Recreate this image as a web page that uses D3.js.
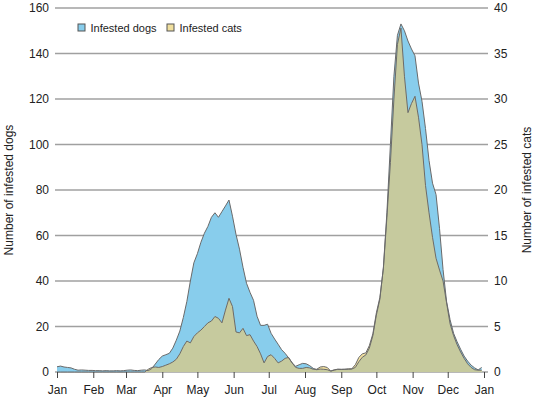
<!DOCTYPE html>
<html><head><meta charset="utf-8">
<script src="https://cdn.jsdelivr.net/npm/d3@7"></script>
<style>body{margin:0;background:#fff}svg{display:block}text{font-family:"Liberation Sans",Arial,sans-serif}</style>
</head><body>
<script>
// Sampled every 3 days starting Jan 1
const startDate = new Date(2019, 0, 1);
const stepDays = 3;
const dogs = [2.3,2.6,2.2,2.0,1.8,1.2,0.8,0.9,0.8,0.7,0.7,0.6,0.6,0.5,0.6,0.5,0.5,0.6,0.5,0.6,0.8,0.9,0.7,0.6,0.8,0.9,
  0.6,1.5,3.5,5.5,7.0,7.6,8.2,10.5,14,18,24,31,40,48,52,57,61,64,68,70,68,70.5,73,75.6,
  68.5,60.5,54,46,39,35,31.5,24.5,20.5,20.5,21,17,14.5,12.2,9.8,8.2,6.2,4.0,2.5,3.2,3.8,3.6,2.8,1.6,1.0,1.3,1.2,1.0,0.4,0.8,
  1.2,1.1,1.2,1.2,1.3,2.0,4.5,6.5,7.5,10.5,16,25,32,46,70,100,130,148,153,150,145.5,142,139,127,119,107,93,83,78,63,
  45,31,23,17,13.3,10,7,4.8,3.0,1.8,0.9,2.0];
const cats = [0,0,0,0,0,0,0,0,0,0,0,0,0,0,0,0,0,0,0,0,0,0,0,0,0,0,
  0.3,0.5,0.55,0.5,0.6,0.75,0.9,1.1,1.4,2.0,2.8,3.4,3.2,3.9,4.3,4.6,5.0,5.4,5.6,6.1,5.9,5.4,6.8,8.1,
  7.2,4.4,4.3,4.8,4.0,4.1,3.4,2.8,2.0,1.0,1.7,1.9,1.5,1.0,1.2,1.5,1.6,1.0,0.5,0.4,0.4,0.5,0.45,0.3,0.3,0.55,0.6,0.5,0.1,0.25,
  0.3,0.3,0.3,0.35,0.35,0.8,1.6,2.0,2.1,2.9,4.2,6.5,8.2,11.4,17,23,30,36,37.8,32.5,28.5,29.5,30.3,28,25,20.5,17.5,14.8,12.5,11.2,
  10,7.6,5.3,4,3.0,2.2,1.5,0.9,0.5,0.25,0.2,0.2];
const dogTicks = [0,20,40,60,80,100,120,140,160];
const catTicks = [0,5,10,15,20,25,30,35,40];
const seriesNames = ["Infested dogs","Infested cats"];
const colors = {dog:"#88cdec", cat:"#f0df9e", overlap:"#c6ca9e", line:"#6a6a6a", grid:"#a0a0a0"};

const W = 536, H = 399;
const svg = d3.select("body").append("svg").attr("width", W).attr("height", H);

const x = d3.scaleTime().domain([startDate, new Date(2020,0,1)]).range([57, 484]);
const yDog = d3.scaleLinear().domain([0,160]).range([372, 8]);
const yCat = d3.scaleLinear().domain([0,40]).range([372, 8]);

const data = dogs.map((d,i)=>({date:d3.timeDay.offset(startDate, i*stepDays), dog:d, cat:cats[i]}));

// gridlines
svg.append("g").selectAll("line").data(dogTicks).join("line")
  .attr("x1",55).attr("x2",488).attr("y1",d=>yDog(d)).attr("y2",d=>yDog(d))
  .attr("stroke",colors.grid).attr("stroke-width",1.3);

const areaDog = d3.area().x(d=>x(d.date)).y0(yDog(0)).y1(d=>yDog(d.dog));
const areaCat = d3.area().x(d=>x(d.date)).y0(yCat(0)).y1(d=>yCat(d.cat));
const areaMin = d3.area().x(d=>x(d.date)).y0(yDog(0)).y1(d=>Math.max(yDog(d.dog), yCat(d.cat)));
const lineDog = d3.line().x(d=>x(d.date)).y(d=>yDog(d.dog));
const lineCat = d3.line().x(d=>x(d.date)).y(d=>yCat(d.cat));

svg.append("path").datum(data).attr("d",areaDog).attr("fill",colors.dog);
svg.append("path").datum(data).attr("d",areaCat).attr("fill",colors.cat);
svg.append("path").datum(data).attr("d",areaMin).attr("fill",colors.overlap);
svg.append("path").datum(data).attr("d",lineDog).attr("fill","none").attr("stroke",colors.line).attr("stroke-width",1);
svg.append("path").datum(data).attr("d",lineCat).attr("fill","none").attr("stroke",colors.line).attr("stroke-width",1);

// left axis labels
svg.append("g").selectAll("text").data(dogTicks).join("text")
  .attr("x",49).attr("y",d=>yDog(d)+4.3).attr("text-anchor","end")
  .attr("font-size",12).attr("fill","#222").text(d=>d);
// right axis labels
svg.append("g").selectAll("text").data(catTicks).join("text")
  .attr("x",494).attr("y",d=>yCat(d)+4.3).attr("text-anchor","start")
  .attr("font-size",12).attr("fill","#222").text(d=>d);

// x axis
const xAxis = d3.axisBottom(x).ticks(d3.timeMonth.every(1)).tickFormat(d3.timeFormat("%b")).tickSize(6).tickPadding(7);
const gx = svg.append("g").attr("transform",`translate(0,${yDog(0)})`).call(xAxis);
gx.select(".domain").remove();
gx.selectAll(".tick line").attr("stroke","#444");
gx.selectAll(".tick text").attr("font-size",12).attr("fill","#222").attr("font-family","Liberation Sans, Arial, sans-serif");

// axis titles
svg.append("text").attr("transform","translate(13,190) rotate(-90)").attr("text-anchor","middle")
  .attr("font-size",12).attr("fill","#222").text("Number of infested dogs");
svg.append("text").attr("transform","translate(531,190) rotate(-90)").attr("text-anchor","middle")
  .attr("font-size",12).attr("fill","#222").text("Number of infested cats");

// legend
const leg = svg.append("g");
const legItems = [{name:seriesNames[0], c:colors.dog, x:78},{name:seriesNames[1], c:colors.cat, x:167}];
legItems.forEach(it=>{
  leg.append("rect").attr("x",it.x).attr("y",24).attr("width",7).attr("height",7)
    .attr("fill",it.c).attr("stroke","#555").attr("stroke-width",1);
  leg.append("text").attr("x",it.x+12.5).attr("y",32).attr("font-size",11).attr("fill","#222").text(it.name);
});
</script>
</body></html>
